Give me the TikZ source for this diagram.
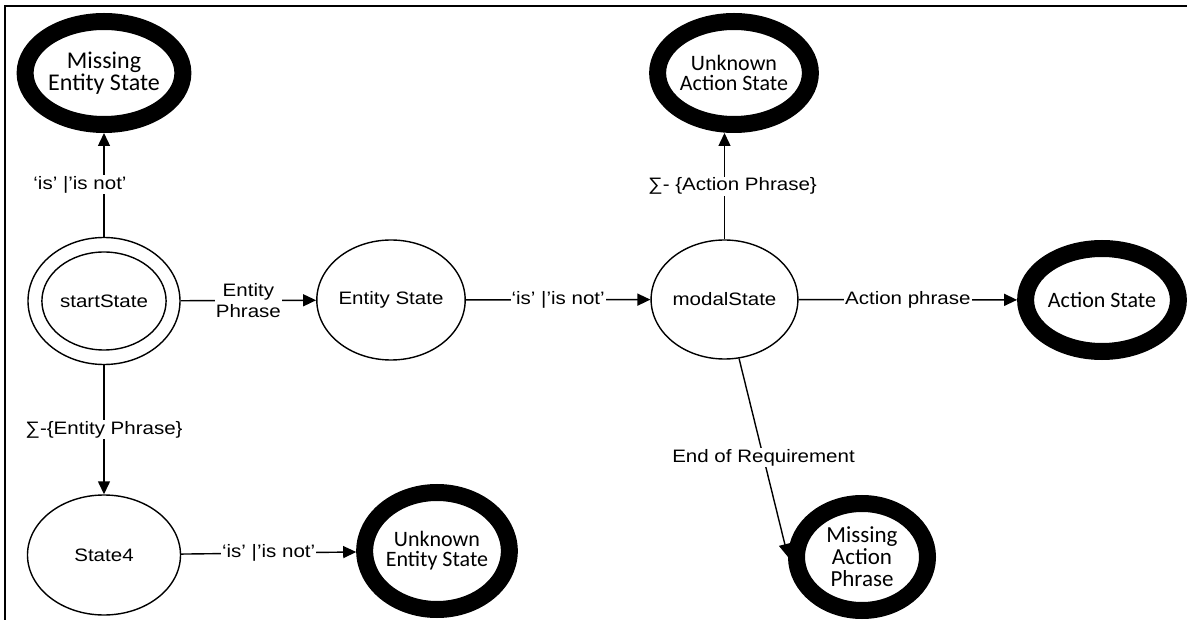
\documentclass[tikz,border=0pt]{standalone}
\usepackage{fontspec}
\setmainfont{Liberation Sans}[FakeStretch=1.14]
\newfontfamily\calfont{Carlito}
\usetikzlibrary{arrows.meta,shapes.geometric}
\begin{document}
\begin{tikzpicture}[x=1pt,y=-1pt,
  state/.style={ellipse,draw,line width=1.4pt,inner sep=0pt,font=\fontsize{18}{20}\selectfont},
  final/.style={ellipse,draw,line width=17pt,inner sep=0pt,align=center,font=\calfont\fontsize{22}{20}\selectfont},
  arr/.style={line width=1.4pt,-{Triangle[length=13pt,width=12pt]}},
  lbl/.style={fill=white,inner sep=1pt,font=\fontsize{18}{21}\selectfont,align=center}]
\useasboundingbox (0,0) rectangle (1187,620);
\draw[line width=2.5pt] (5,625) -- (5,6) -- (1190,6);

% states
\node[state,minimum width=152pt,minimum height=127pt] (start) at (104,301) {};
\node[state,minimum width=120pt,minimum height=98pt] (starti) at (104,301) {startState};
\node[final,minimum width=135pt,minimum height=103pt,font=\calfont\fontsize{24}{19}\selectfont] (mes) at (104,73) {Missing\\Entity State};
\node[state,minimum width=148pt,minimum height=120pt] (es) at (391,300) {Entity State};
\node[state,minimum width=143pt,minimum height=119pt] (modal) at (724.5,299.5) {modalState};
\node[final,minimum width=142pt,minimum height=103pt] (as) at (1102,300) {Action State};
\node[final,minimum width=148pt,minimum height=103pt] (uas) at (734,73) {Unknown\\Action State};
\node[state,minimum width=153pt,minimum height=120pt] (s4) at (104,555) {State4};
\node[final,minimum width=123pt,minimum height=117pt] (ues) at (437,551) {Unknown\\Entity State};
\node[final,minimum width=131pt,minimum height=107pt,font=\calfont\fontsize{23}{22}\selectfont] (map) at (862,557) {Missing\\Action\\Phrase};

% transitions
\draw[arr] (start) -- (mes) node[lbl,pos=0.5,xshift=-24pt] {‘is’ |’is not’};
\draw[arr] (start) -- (es) node[lbl,pos=0.5] {Entity\\Phrase};
\draw[arr] (es) -- (modal) node[lbl,pos=0.5] {‘is’ |’is not’};
\draw[arr] (modal) -- (as) node[lbl,pos=0.5] {Action phrase};
\draw[arr] (modal.north) -- (modal.north |- uas.south) node[lbl,pos=0.5,xshift=8pt] {∑- \{Action Phrase\}};
\draw[arr] (start) -- (s4) node[lbl,pos=0.5] {∑-\{Entity Phrase\}};
\draw[arr] (s4) -- (ues) node[lbl,pos=0.5] {‘is’ |’is not’};
\draw[arr] (modal) -- (map.west) node[lbl,pos=0.5] {End of Requirement};
\end{tikzpicture}
\end{document}
